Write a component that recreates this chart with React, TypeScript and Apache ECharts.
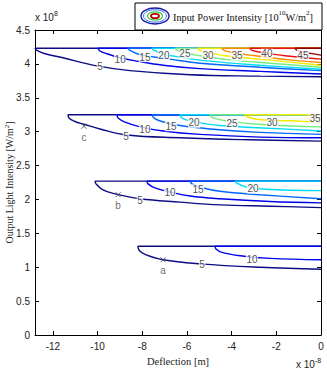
import React, { useEffect, useRef } from 'react';
import * as echarts from 'echarts';

// ---- axes ----
const xTicks = [-12, -10, -8, -6, -4, -2, 0];
const xMin = -12.8;
const xMax = 0;
const yMin = 0;
const yMax = 4.5;
const yStep = 0.5;

// ---- contour lines (x in 1e-8 m, y in 1e8 W/m^2) ----
// group 1 (top)
const g1L5 = [[0, 4.23], [-12.8, 4.23], [-12.71, 4.2], [-12.35, 4.15], [-11.55, 4.09], [-10.02, 3.97], [-8.55, 3.9], [-5.86, 3.84], [-2.73, 3.82], [0, 3.81]];
const g1L10 = [[0, 4.23], [-9.98, 4.23], [-9.89, 4.19], [-9.58, 4.15], [-8.99, 4.09], [-8.23, 4.04], [-7.07, 3.98], [-5.41, 3.93], [-2.73, 3.89], [0, 3.85]];
const g1L15 = [[0, 4.23], [-8.64, 4.23], [-8.55, 4.2], [-8.23, 4.15], [-7.65, 4.11], [-6.76, 4.07], [-5.41, 4.01], [-2.73, 3.95], [0, 3.9]];
const g1L20 = [[0, 4.23], [-7.56, 4.23], [-7.47, 4.2], [-7.12, 4.15], [-6.31, 4.1], [-4.97, 4.04], [-2.73, 3.98], [0, 3.92]];
const g1L25 = [[0, 4.23], [-6.53, 4.23], [-6.44, 4.2], [-6.09, 4.16], [-5.41, 4.12], [-4.07, 4.06], [-2.28, 4.01], [0, 3.95]];
const g1L30 = [[0, 4.23], [-5.5, 4.23], [-5.41, 4.2], [-5.06, 4.17], [-4.3, 4.12], [-2.73, 4.07], [0, 3.98]];
const g1L35 = [[0, 4.23], [-4.43, 4.23], [-4.34, 4.2], [-3.85, 4.16], [-2.95, 4.12], [-1.39, 4.06], [0, 4.02]];
const g1L40 = [[0, 4.23], [-3.18, 4.23], [-3.09, 4.2], [-2.64, 4.17], [-1.61, 4.12], [0, 4.07]];
const g1L45 = [[0, 4.23], [-1.16, 4.23], [-1.07, 4.2], [-0.72, 4.17], [0, 4.13]];
// group 2
const g2L5 = [[0, 3.25], [-11.32, 3.25], [-11.28, 3.2], [-11.01, 3.15], [-10.61, 3.11], [-9.89, 3.04], [-8.68, 2.95], [-6.31, 2.91], [-3.18, 2.88], [0, 2.86]];
const g2L10 = [[0, 3.25], [-9.13, 3.25], [-9.08, 3.2], [-8.77, 3.14], [-8.1, 3.07], [-7.07, 3.01], [-5.41, 2.96], [-2.73, 2.92], [0, 2.91]];
const g2L15 = [[0, 3.25], [-7.56, 3.25], [-7.47, 3.2], [-7.12, 3.15], [-6.31, 3.09], [-4.97, 3.04], [-2.73, 2.99], [0, 2.96]];
const g2L20 = [[0, 3.25], [-6.31, 3.25], [-6.22, 3.2], [-5.86, 3.16], [-4.52, 3.09], [-2.28, 3.05], [0, 3.01]];
const g2L25 = [[0, 3.25], [-4.97, 3.25], [-4.88, 3.21], [-4.43, 3.17], [-2.86, 3.11], [0, 3.07]];
const g2L30 = [[0, 3.25], [-3.4, 3.25], [-3.31, 3.22], [-2.82, 3.18], [-1.39, 3.16], [0, 3.14]];
const g2L35 = [[0, 3.25], [-0.4, 3.25], [-0.31, 3.22], [0, 3.2]];
// group 3
const g3L5 = [[0, 2.27], [-10.11, 2.27], [-10.07, 2.23], [-9.8, 2.15], [-9.31, 2.09], [-8.1, 2.01], [-6.31, 1.96], [-4.52, 1.92], [-2.28, 1.9], [0, 1.88]];
const g3L10 = [[0, 2.27], [-7.79, 2.27], [-7.74, 2.23], [-7.43, 2.17], [-6.76, 2.11], [-5.86, 2.05], [-4.52, 2.01], [-2.28, 1.97], [0, 1.95]];
const g3L15 = [[0, 2.27], [-5.86, 2.27], [-5.77, 2.23], [-5.41, 2.18], [-4.52, 2.12], [-2.73, 2.07], [0, 2.01]];
const g3L20 = [[0, 2.27], [-3.85, 2.27], [-3.76, 2.24], [-3.4, 2.19], [-2.51, 2.15], [0, 2.13]];
// group 4 (bottom)
const g4L5 = [[0, 1.31], [-8.19, 1.31], [-8.14, 1.25], [-7.88, 1.19], [-7.07, 1.11], [-5.41, 1.05], [-2.73, 1.0], [0, 0.97]];
const g4L10 = [[0, 1.31], [-4.74, 1.31], [-4.7, 1.27], [-4.43, 1.22], [-3.62, 1.17], [-2.28, 1.13], [0, 1.11]];

// ---- contour labels [x, y, text] ----
const g1Labels = [[-9.89, 3.96, '5'], [-8.99, 4.06, '10'], [-7.88, 4.1, '15'], [-7.03, 4.13, '20'], [-6.09, 4.15, '25'], [-5.06, 4.13, '30'], [-3.76, 4.12, '35'], [-2.42, 4.15, '40'], [-0.81, 4.13, '45']];
const g2Labels = [[-8.73, 2.93, '5'], [-7.88, 3.03, '10'], [-6.71, 3.08, '15'], [-5.68, 3.13, '20'], [-3.98, 3.12, '25'], [-2.19, 3.14, '30'], [-0.27, 3.2, '35']];
const g3Labels = [[-8.1, 1.98, '5'], [-6.76, 2.1, '10'], [-5.5, 2.15, '15'], [-3.04, 2.16, '20']];
const g4Labels = [[-5.32, 1.04, '5'], [-3.09, 1.12, '10']];

// ---- marked points ----
const markPts = [[-10.61, 3.08, 'c'], [-9.08, 2.07, 'b'], [-7.07, 1.11, 'a']];

const levelColor: Record<number, string> = {
  5: '#0c0c86',
  10: '#0000ee',
  15: '#0068ff',
  20: '#00dcf4',
  25: '#74ec84',
  30: '#f2ea00',
  35: '#ff8a00',
  40: '#ee1010',
  45: '#8e0000',
};

const contours: { level: number; pts: number[][] }[] = [
  { level: 5, pts: g1L5 }, { level: 10, pts: g1L10 }, { level: 15, pts: g1L15 }, { level: 20, pts: g1L20 },
  { level: 25, pts: g1L25 }, { level: 30, pts: g1L30 }, { level: 35, pts: g1L35 }, { level: 40, pts: g1L40 },
  { level: 45, pts: g1L45 },
  { level: 5, pts: g2L5 }, { level: 10, pts: g2L10 }, { level: 15, pts: g2L15 }, { level: 20, pts: g2L20 },
  { level: 25, pts: g2L25 }, { level: 30, pts: g2L30 }, { level: 35, pts: g2L35 },
  { level: 5, pts: g3L5 }, { level: 10, pts: g3L10 }, { level: 15, pts: g3L15 }, { level: 20, pts: g3L20 },
  { level: 5, pts: g4L5 }, { level: 10, pts: g4L10 },
];

const SANS = 'Liberation Sans, Arial, sans-serif';
const SERIF = 'Liberation Serif, Times New Roman, serif';

export default function App() {
  const ref = useRef<HTMLDivElement>(null);
  useEffect(() => {
    document.body.style.margin = '0';
    if (!ref.current) return;
    const chart = echarts.init(ref.current, undefined, { renderer: 'svg' });

    const lineSeries = contours.map((c) => ({
      type: 'line',
      data: c.pts,
      smooth: 0.4,
      symbol: 'none',
      silent: true,
      lineStyle: { color: levelColor[c.level], width: 1.4 },
      z: 2,
    }));

    const allLabels = [...g1Labels, ...g2Labels, ...g3Labels, ...g4Labels];

    const option: any = {
      animation: false,
      backgroundColor: '#fff',
      grid: { left: 35, right: 6, top: 30, bottom: 36, containLabel: false, outerBoundsMode: 'none' },
      xAxis: [
        {
          type: 'value', min: xMin, max: xMax, position: 'bottom',
          axisLine: { show: true, onZero: false, lineStyle: { color: '#000', width: 1 } },
          axisTick: { show: true, inside: true, length: 4, customValues: xTicks, lineStyle: { color: '#000' } },
          axisLabel: { customValues: xTicks, color: '#222', fontSize: 10, fontFamily: SANS, margin: 6 },
          splitLine: { show: false },
          name: 'Deflection [m]', nameLocation: 'middle', nameGap: 21, nameMoveOverlap: false,
          nameTextStyle: { fontFamily: SERIF, fontSize: 10.5, color: '#222' },
        },
        {
          type: 'value', min: xMin, max: xMax, position: 'top',
          axisLine: { show: true, onZero: false, lineStyle: { color: '#000', width: 1 } },
          axisTick: { show: true, inside: true, length: 4, customValues: xTicks, lineStyle: { color: '#000' } },
          axisLabel: { show: false },
          splitLine: { show: false },
        },
      ],
      yAxis: [
        {
          type: 'value', min: yMin, max: yMax, interval: yStep, position: 'left',
          axisLine: { show: true, onZero: false, lineStyle: { color: '#000', width: 1 } },
          axisTick: { show: true, inside: true, length: 4, lineStyle: { color: '#000' } },
          axisLabel: { color: '#222', fontSize: 10, fontFamily: SANS, margin: 5 },
          splitLine: { show: false },
          name: '{a|Output Light Intensity [W/m}{s|2}{a|]}', nameLocation: 'middle', nameGap: 20,
          nameMoveOverlap: false,
          nameTextStyle: {
            rich: {
              a: { fontFamily: SERIF, fontSize: 10, color: '#222', lineHeight: 12 },
              s: { fontFamily: SERIF, fontSize: 7, color: '#222', verticalAlign: 'top', lineHeight: 7 },
            },
          },
        },
        {
          type: 'value', min: yMin, max: yMax, interval: yStep, position: 'right',
          axisLine: { show: true, onZero: false, lineStyle: { color: '#000', width: 1 } },
          axisTick: { show: true, inside: true, length: 4, lineStyle: { color: '#000' } },
          axisLabel: { show: false },
          splitLine: { show: false },
        },
      ],
      series: [
        ...lineSeries,
        {
          type: 'scatter',
          data: allLabels.map((l) => ({ value: [l[0], l[1]], name: l[2] })),
          symbolSize: 0,
          silent: true,
          z: 5,
          label: {
            show: true, position: 'inside', formatter: '{b}',
            color: '#222', fontSize: 10, fontFamily: SANS,
            backgroundColor: '#fff', padding: [0, 0.5],
          },
        },
        {
          type: 'scatter',
          data: markPts.map((m) => ({ value: [m[0], m[1]], name: m[2] })),
          symbol: 'path://M0,0L10,10M10,0L0,10',
          symbolSize: 5,
          silent: true,
          z: 6,
          itemStyle: { color: 'none', borderColor: '#444', borderWidth: 1 },
          label: {
            show: true, position: 'bottom', distance: 1, formatter: '{b}',
            color: '#444', fontSize: 10, fontFamily: SANS,
          },
        },
      ],
      graphic: [
        {
          type: 'rect', z: 50,
          shape: { x: 135, y: 3, width: 187, height: 27 },
          style: { fill: '#fff', stroke: '#000', lineWidth: 1 },
        },
        { type: 'ellipse', z: 51, shape: { cx: 155, cy: 16, rx: 14, ry: 8 }, style: { fill: 'none', stroke: '#1a1aa0', lineWidth: 1.4 } },
        { type: 'ellipse', z: 51, shape: { cx: 155, cy: 16, rx: 11.5, ry: 6.2 }, style: { fill: 'none', stroke: '#2f6cff', lineWidth: 1 } },
        { type: 'ellipse', z: 51, shape: { cx: 155, cy: 16, rx: 7.5, ry: 4.2 }, style: { fill: 'none', stroke: '#3cc83c', lineWidth: 1.2 } },
        { type: 'ellipse', z: 51, shape: { cx: 155, cy: 16, rx: 4, ry: 2.2 }, style: { fill: 'none', stroke: '#b00000', lineWidth: 1.8 } },
        {
          type: 'text', z: 52, x: 173, y: 17,
          style: {
            text: '{a|Input Power Intensity [10}{s|10}{a|W/m}{s|2}{a|]}',
            verticalAlign: 'middle',
            rich: {
              a: { fontFamily: SERIF, fontSize: 10.3, fill: '#111', lineHeight: 15 },
              s: { fontFamily: SERIF, fontSize: 7, fill: '#111', verticalAlign: 'top', lineHeight: 8 },
            },
          },
        },
        {
          type: 'text', z: 52, x: 35, y: 17,
          style: {
            text: '{a|x 10}{s|8}',
            verticalAlign: 'middle',
            rich: {
              a: { fontFamily: SANS, fontSize: 10, fill: '#222', lineHeight: 14 },
              s: { fontFamily: SANS, fontSize: 7, fill: '#222', verticalAlign: 'top', lineHeight: 8 },
            },
          },
        },
        {
          type: 'text', z: 52, x: 296, y: 364,
          style: {
            text: '{a|x 10}{s|-8}',
            verticalAlign: 'middle',
            rich: {
              a: { fontFamily: SANS, fontSize: 10, fill: '#222', lineHeight: 14 },
              s: { fontFamily: SANS, fontSize: 7, fill: '#222', verticalAlign: 'top', lineHeight: 8 },
            },
          },
        },
      ],
    };
    chart.setOption(option);
    return () => chart.dispose();
  }, []);
  return <div ref={ref} style={{ width: 327, height: 371 }} />;
}
